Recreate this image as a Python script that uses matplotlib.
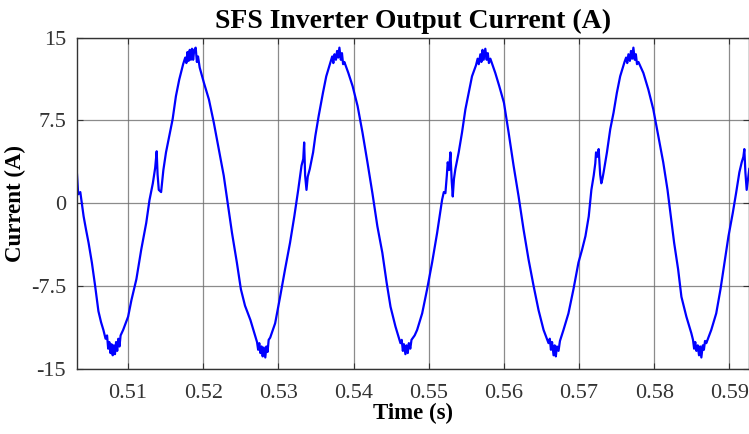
import matplotlib.pyplot as plt

# Inverter output current samples (time in s, current in A)
time_s = [
    0.50320, 0.50336, 0.50364, 0.50408, 0.50440, 0.50474, 0.50518, 0.50561, 0.50605, 0.50640,
    0.50671, 0.50700, 0.50720, 0.50735, 0.50750, 0.50765, 0.50780, 0.50795, 0.50810, 0.50825,
    0.50840, 0.50855, 0.50870, 0.50885, 0.50900, 0.50934, 0.51000, 0.51044, 0.51110, 0.51175,
    0.51241, 0.51285, 0.51329, 0.51360, 0.51380, 0.51392, 0.51408, 0.51439, 0.51469, 0.51504,
    0.51548, 0.51592, 0.51636, 0.51680, 0.51732, 0.51760, 0.51775, 0.51789, 0.51805, 0.51820,
    0.51835, 0.51850, 0.51865, 0.51880, 0.51899, 0.51915, 0.51930, 0.51952, 0.52009, 0.52075,
    0.52140, 0.52206, 0.52272, 0.52338, 0.52382, 0.52447, 0.52500, 0.52555, 0.52627, 0.52693,
    0.52715, 0.52730, 0.52745, 0.52760, 0.52775, 0.52790, 0.52805, 0.52825, 0.52840, 0.52855,
    0.52870, 0.52890, 0.52956, 0.53022, 0.53088, 0.53154, 0.53211, 0.53263, 0.53307, 0.53330,
    0.53342, 0.53355, 0.53373, 0.53390, 0.53417, 0.53461, 0.53491, 0.53535, 0.53592, 0.53636,
    0.53693, 0.53715, 0.53730, 0.53746, 0.53765, 0.53780, 0.53795, 0.53811, 0.53830, 0.53845,
    0.53860, 0.53877, 0.53930, 0.53987, 0.54053, 0.54118, 0.54184, 0.54250, 0.54316, 0.54382,
    0.54439, 0.54491, 0.54557, 0.54623, 0.54640, 0.54655, 0.54670, 0.54689, 0.54705, 0.54720,
    0.54735, 0.54754, 0.54770, 0.54812, 0.54845, 0.54912, 0.54978, 0.55044, 0.55111, 0.55177,
    0.55200, 0.55221, 0.55240, 0.55252, 0.55270, 0.55288, 0.55305, 0.55319, 0.55335, 0.55354,
    0.55398, 0.55442, 0.55487, 0.55531, 0.55575, 0.55628, 0.55650, 0.55665, 0.55686, 0.55700,
    0.55715, 0.55730, 0.55752, 0.55770, 0.55785, 0.55800, 0.55819, 0.55885, 0.55938, 0.56000,
    0.56062, 0.56128, 0.56195, 0.56261, 0.56327, 0.56394, 0.56460, 0.56527, 0.56593, 0.56610,
    0.56625, 0.56640, 0.56660, 0.56675, 0.56690, 0.56705, 0.56726, 0.56745, 0.56792, 0.56858,
    0.56925, 0.56991, 0.57040, 0.57084, 0.57128, 0.57163, 0.57194, 0.57215, 0.57225, 0.57245,
    0.57260, 0.57280, 0.57295, 0.57310, 0.57326, 0.57370, 0.57414, 0.57458, 0.57502, 0.57546,
    0.57604, 0.57625, 0.57640, 0.57656, 0.57675, 0.57690, 0.57705, 0.57722, 0.57740, 0.57755,
    0.57770, 0.57789, 0.57855, 0.57921, 0.57987, 0.58053, 0.58119, 0.58176, 0.58220, 0.58264,
    0.58317, 0.58361, 0.58427, 0.58493, 0.58515, 0.58530, 0.58545, 0.58560, 0.58578, 0.58595,
    0.58610, 0.58626, 0.58645, 0.58660, 0.58675, 0.58692, 0.58758, 0.58824, 0.58881, 0.58934,
    0.58987, 0.59044, 0.59088, 0.59132, 0.59163, 0.59185, 0.59198, 0.59212, 0.59229, 0.59264,
]
current_a = [
    2.6, 0.8, 1.0, -1.2, -2.4, -3.6, -5.4, -7.5, -9.8, -10.8,
    -11.5, -12.3, -12.0, -13.2, -12.6, -13.6, -12.8, -13.8, -12.9, -13.7,
    -12.6, -13.4, -12.3, -13.0, -12.0, -11.5, -10.3, -8.8, -6.9, -4.2,
    -1.8, 0.3, 1.8, 3.2, 4.7, 2.6, 1.2, 1.0, 3.0, 4.6,
    6.1, 7.6, 9.7, 11.2, 12.6, 13.2, 12.7, 13.7, 12.9, 13.9,
    13.0, 14.0, 13.0, 13.9, 14.1, 12.8, 13.3, 12.3, 10.9, 9.4,
    7.3, 4.9, 2.5, -0.6, -2.7, -5.4, -7.8, -9.3, -10.6, -12.1,
    -12.6, -13.3, -12.7, -13.6, -13.0, -13.9, -13.1, -14.0, -13.0, -13.5,
    -12.4, -12.2, -10.9, -8.5, -6.0, -3.6, -1.2, 1.2, 3.4, 4.0,
    5.5, 2.5, 1.2, 2.4, 3.1, 4.6, 6.1, 7.9, 10.0, 11.5,
    12.8, 13.3, 12.7, 13.5, 13.0, 13.8, 13.2, 14.1, 13.0, 13.6,
    12.6, 12.8, 11.8, 10.6, 8.8, 6.4, 3.7, 0.9, -2.1, -4.5,
    -7.2, -9.4, -11.2, -12.7, -12.4, -13.4, -12.8, -13.7, -12.9, -13.6,
    -12.7, -13.2, -12.4, -12.0, -11.5, -10.0, -7.8, -5.4, -2.7, 0.3,
    1.0, 0.9, 2.5, 3.7, 3.0, 4.6, 2.0, 0.6, 2.2, 3.1,
    4.6, 6.4, 8.5, 10.0, 11.5, 12.5, 13.1, 12.6, 13.5, 12.8,
    13.9, 13.0, 14.0, 13.0, 13.6, 12.7, 13.1, 11.8, 10.6, 9.1,
    6.4, 3.4, 0.6, -2.4, -5.1, -7.5, -9.7, -11.5, -12.7, -12.3,
    -13.3, -12.6, -13.8, -12.9, -13.9, -13.0, -13.4, -12.5, -11.5, -10.0,
    -7.8, -5.4, -4.2, -3.0, -1.2, 1.2, 2.5, 3.6, 4.6, 4.2,
    4.9, 2.6, 1.8, 2.2, 2.8, 4.6, 6.7, 8.2, 10.0, 11.5,
    12.8, 13.2, 12.7, 13.5, 12.9, 13.8, 13.1, 14.1, 13.0, 13.5,
    12.6, 12.8, 11.8, 10.3, 8.5, 6.1, 3.7, 1.2, -1.2, -3.6,
    -6.0, -8.5, -10.3, -11.8, -12.4, -13.2, -12.6, -13.4, -12.9, -13.8,
    -13.0, -14.0, -12.9, -13.3, -12.5, -12.7, -11.5, -10.0, -7.8, -5.4,
    -3.0, -0.9, 0.9, 2.8, 3.7, 4.2, 4.9, 2.8, 1.2, 3.1,
]

x_ticks = [0.51, 0.52, 0.53, 0.54, 0.55, 0.56, 0.57, 0.58, 0.59]
x_tick_labels = ['0.51', '0.52', '0.53', '0.54', '0.55', '0.56', '0.57', '0.58', '0.59']
y_ticks = [-15, -7.5, 0, 7.5, 15]
y_tick_labels = ['-15', '-7.5', '0', '7.5', '15']

plt.rcParams['font.family'] = ['Liberation Serif', 'DejaVu Serif']

fig = plt.figure(figsize=(7.49, 4.34), dpi=100)
ax = fig.add_axes([0.1028, 0.1509, 0.8972, 0.7622])

ax.plot(time_s, current_a, color='#0000ff', linewidth=1.6)

ax.set_xlim(0.5032, 0.5926)
ax.set_ylim(-15, 15)
ax.set_xticks(x_ticks)
ax.set_xticklabels(x_tick_labels)
ax.set_yticks(y_ticks)
ax.set_yticklabels(y_tick_labels)

ax.grid(True, color='#6e6e6e', linewidth=0.9, alpha=0.8)
ax.tick_params(direction='in', length=4, width=0.8, top=True, right=True,
               labelsize=16, colors='#333333')
ax.tick_params(axis='x', pad=11)
ax.tick_params(axis='y', pad=8)
for side in ax.spines.values():
    side.set_color('#333333')
    side.set_linewidth(1.0)

ax.set_title('SFS Inverter Output Current (A)', fontsize=20, fontweight='bold', pad=7)
ax.set_xlabel('Time (s)', fontsize=16.5, fontweight='bold', labelpad=0)
ax.set_ylabel('Current (A)', fontsize=16.5, fontweight='bold', labelpad=3)

fig.savefig('out.png', dpi=100)
